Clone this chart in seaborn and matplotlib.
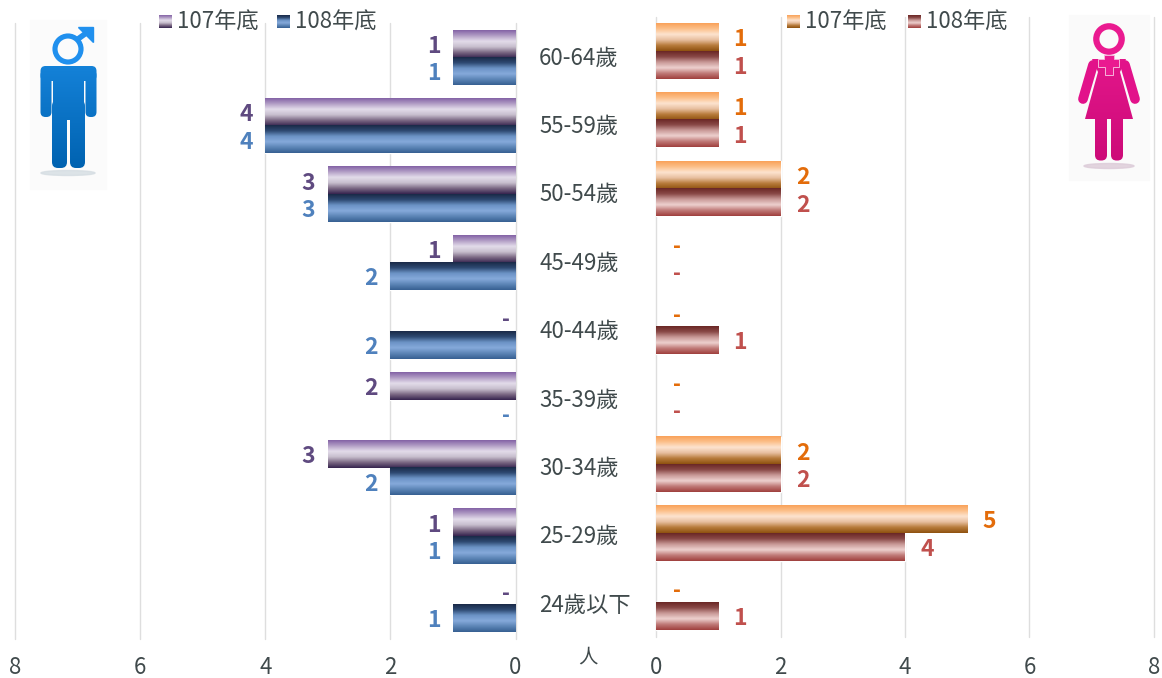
"""
男女年齡分布對照圖(左右兩側條形圖)
"""

import numpy as np
import pandas as pd
import matplotlib.pyplot as plt
import seaborn as sns
from matplotlib.colors import LinearSegmentedColormap
from matplotlib.patches import Circle, Ellipse, FancyBboxPatch, Polygon, Rectangle
from matplotlib.transforms import ScaledTranslation

AGE_GROUPS = ["60-64歲", "55-59歲", "50-54歲", "45-49歲", "40-44歲",
              "35-39歲", "30-34歲", "25-29歲", "24歲以下"]
YEARS = ["107年底", "108年底"]
MALE_107 = [1, 4, 3, 1, 0, 2, 3, 1, 0]
MALE_108 = [1, 4, 3, 2, 2, 0, 2, 1, 1]
FEMALE_107 = [1, 1, 2, 0, 0, 0, 2, 5, 0]
FEMALE_108 = [1, 1, 2, 0, 1, 0, 2, 4, 1]
X_TICKS = [0, 2, 4, 6, 8]

W, H = 1162, 678
TEXT = "#404a4c"
GRID = "#dedede"

# 漸層顏色(由上到下)
PURPLE = ["#8463a6", "#b39fc6", "#e3dcea", "#c8bfce", "#7d6a85", "#37254f"]
BLUE = ["#1a2a48", "#2e4a72", "#6c93c6", "#85a9da", "#5c85b6", "#376092"]
ORANGE = ["#f9a25a", "#fcc08a", "#fde3cf", "#e8c0a0", "#b87c3c", "#8f5210"]
RED = ["#6b2725", "#8a4a48", "#c99a98", "#edd0ce", "#c07a78", "#a0403e"]

sns.set_theme(style="white")
plt.rcParams["font.family"] = ["Noto Sans CJK TC", "DejaVu Sans"]
plt.rcParams["axes.unicode_minus"] = False


def px_axes(fig, x0, y0, x1, y1):
    """用像素座標(左上為原點)建立座標軸"""
    return fig.add_axes([x0 / W, 1 - y1 / H, (x1 - x0) / W, (y1 - y0) / H])


def gradient(colors):
    cmap = LinearSegmentedColormap.from_list("g", colors)
    return cmap(np.linspace(0, 1, 64))[:, None, :]


def fill_bars(ax, schemes):
    """把 seaborn 畫出的條形換成漸層填色"""
    xlim, ylim = ax.get_xlim(), ax.get_ylim()
    for container, colors in zip(ax.containers, schemes):
        img = gradient(colors)
        for bar in container:
            if bar.get_width() == 0:
                bar.set_visible(False)
                continue
            x0, y0 = bar.get_x(), bar.get_y()
            x1, y1 = x0 + bar.get_width(), y0 + bar.get_height()
            bar.set_facecolor("none")
            ax.imshow(img, extent=(x0, x1, y1, y0), origin="upper",
                      aspect="auto", zorder=2, interpolation="bilinear")
    ax.set_xlim(xlim)
    ax.set_ylim(ylim)


def draw_side(ax, values_107, values_108, tick_pad):
    df = pd.DataFrame({"age": AGE_GROUPS, YEARS[0]: values_107, YEARS[1]: values_108})
    long_df = df.melt(id_vars="age", var_name="year", value_name="count")
    sns.barplot(data=long_df, y="age", x="count", hue="year", order=AGE_GROUPS,
                hue_order=YEARS, width=0.8, legend=False, ax=ax)
    ax.set_xlim(0, 8)
    ax.set_xticks(X_TICKS)
    ax.set_xlabel("")
    ax.set_ylabel("")
    ax.set_axisbelow(True)
    ax.grid(axis="x", color=GRID, linewidth=1)
    ax.grid(axis="y", visible=False)
    for gl in ax.get_xgridlines():
        gl.set_clip_on(False)
    sns.despine(ax=ax, left=True, bottom=True)
    ax.patch.set_alpha(0)
    ax.tick_params(axis="x", length=0, pad=tick_pad, labelsize=16, labelcolor=TEXT)


def add_labels(ax, label_colors, pad, dash_pad):
    for container, color in zip(ax.containers, label_colors):
        vals = container.datavalues
        texts = ax.bar_label(container, labels=[f"{v:.0f}" if v else "" for v in vals],
                             padding=pad, color=color, fontsize=16.5, fontweight="bold")
        texts += ax.bar_label(container, labels=["-" if v == 0 else "" for v in vals],
                              padding=dash_pad, color=color, fontsize=15.5, fontweight="bold")
        # 數字往下一點點
        for t in texts:
            t.xyann = (t.xyann[0], -1.8)


def draw_legend(ov, x, labels, schemes, gap):
    for i, (label, colors) in enumerate(zip(labels, schemes)):
        sx = x + i * gap
        ov.imshow(gradient(colors), extent=(sx, sx + 13, 28, 15), origin="upper",
                  aspect="auto", interpolation="bilinear", zorder=3)
        ov.text(sx + 18, 22, label, color=TEXT, fontsize=16, va="center", ha="left")


def gradient_patch(ov, patch, box, top, bottom):
    """圖示用:一個圖形填入垂直漸層"""
    ov.add_patch(patch)
    patch.set_facecolor("none")
    patch.set_edgecolor("none")
    im = ov.imshow(gradient([top, bottom]), extent=box, origin="upper",
                   aspect="auto", zorder=4, interpolation="bilinear")
    im.set_clip_path(patch)


def draw_male(ov):
    ov.add_patch(Rectangle((30, 20), 76, 169, color="#fbfbfb", zorder=1))
    ov.add_patch(Ellipse((68, 173), 54, 5, color="#d5dde2", alpha=0.8, zorder=2))
    box = (30, 106, 170, 24)
    top, bottom = "#1c8ee8", "#0062b0"
    parts = [
        FancyBboxPatch((40.5, 66), 56, 15, boxstyle="round,pad=0,rounding_size=5"),
        FancyBboxPatch((40.5, 70), 11, 47, boxstyle="round,pad=0,rounding_size=5"),
        FancyBboxPatch((85.5, 70), 11, 47, boxstyle="round,pad=0,rounding_size=5"),
        Rectangle((53, 70), 31, 50),
        FancyBboxPatch((52, 100), 15, 68, boxstyle="round,pad=0,rounding_size=6"),
        FancyBboxPatch((70, 100), 15, 68, boxstyle="round,pad=0,rounding_size=6"),
    ]
    for part in parts:
        gradient_patch(ov, part, box, top, bottom)
    ov.add_patch(Circle((68, 49), 13, facecolor="none", edgecolor="#2090ee",
                        linewidth=3.7, zorder=5))
    ov.plot([78, 89], [39, 31], color="#2090ee", linewidth=4, zorder=5,
            solid_capstyle="butt")
    ov.add_patch(Polygon([[78, 27], [93, 27], [93, 42]], color="#2090ee", zorder=5))


def draw_female(ov):
    pink, dark = "#ea1a90", "#cc0a78"
    ov.add_patch(Rectangle((1069, 15), 80, 165, color="#fafafa", zorder=1))
    ov.add_patch(Ellipse((1109, 166), 50, 5, color="#dccbd8", alpha=0.8, zorder=2))
    box = (1069, 1149, 165, 25)
    parts = [
        Polygon([[1092, 59], [1126, 59], [1120, 72], [1133, 119], [1085, 119], [1098, 72]]),
        FancyBboxPatch((1095, 112), 12, 48.5, boxstyle="round,pad=0,rounding_size=5.5"),
        FancyBboxPatch((1111, 112), 12, 48.5, boxstyle="round,pad=0,rounding_size=5.5"),
    ]
    for part in parts:
        gradient_patch(ov, part, box, pink, dark)
    for xs, ys in [([1093, 1083], [65, 99]), ([1125, 1135], [65, 99])]:
        ov.plot(xs, ys, color="#e2128a", linewidth=7, solid_capstyle="round", zorder=4)
    ov.add_patch(Circle((1109, 39), 12.7, facecolor="none", edgecolor=pink,
                        linewidth=4.5, zorder=5))
    ov.add_patch(Polygon(
        [[1104, 55], [1114, 55], [1114, 59], [1119, 59], [1119, 67], [1113, 67],
         [1113, 75], [1105, 75], [1105, 67], [1098, 67], [1098, 59], [1104, 59]],
        facecolor=pink, edgecolor="#f6b4da", linewidth=0.7, zorder=6))


fig = plt.figure(figsize=(W / 100, H / 100), dpi=100, facecolor="white")

ax_m = px_axes(fig, 15, 23.3, 515.5, 639)
draw_side(ax_m, MALE_107, MALE_108, 12.5)
ax_m.invert_xaxis()
ax_m.yaxis.tick_right()
ax_m.tick_params(axis="y", length=0, pad=17, labelsize=16, labelcolor=TEXT)
up = ScaledTranslation(0, 1.5 / 72, fig.dpi_scale_trans)
for lab in ax_m.get_yticklabels():
    lab.set_ha("left")
    lab.set_transform(lab.get_transform() + up)
fill_bars(ax_m, [PURPLE, BLUE])
add_labels(ax_m, ["#5f4a80", "#4f81bd"], 9, 10)

ax_f = px_axes(fig, 656, 16.6, 1154, 636.5)
draw_side(ax_f, FEMALE_107, FEMALE_108, 14)
ax_f.tick_params(axis="y", left=False, labelleft=False)
fill_bars(ax_f, [ORANGE, RED])
add_labels(ax_f, ["#e36c0a", "#c0504d"], 11, 12)

# 圖例、單位與圖示放在一層像素座標上
ov = fig.add_axes([0, 0, 1, 1], facecolor="none", zorder=10)
ov.set_axis_off()
draw_legend(ov, 159, YEARS, [PURPLE, BLUE], 118)
draw_legend(ov, 787, YEARS, [ORANGE, RED], 121)
ov.text(588, 657, "人", color=TEXT, fontsize=14, ha="center", va="center")
draw_male(ov)
draw_female(ov)
ov.set_xlim(0, W)
ov.set_ylim(H, 0)

fig.savefig("out.png", dpi=100)
